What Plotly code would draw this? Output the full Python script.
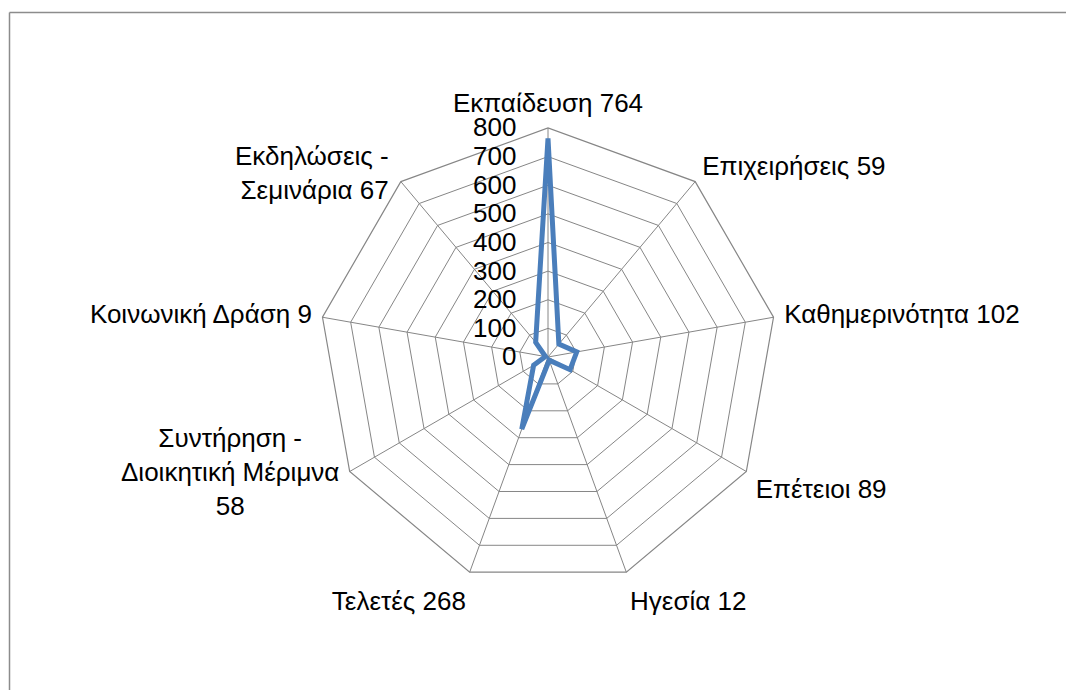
import plotly.graph_objects as go

W, H = 1074, 690
OFF = 8  # page body margin
GRID = "#868686"
LINE = "#4A7EBB"
FONT = "Liberation Sans, Arial, sans-serif"

categories = [
    "Εκπαίδευση 764",
    "Επιχειρήσεις 59",
    "Καθημερινότητα 102",
    "Επέτειοι 89",
    "Ηγεσία 12",
    "Τελετές 268",
    "Συντήρηση - Διοικητική Μέριμνα 58",
    "Κοινωνική Δράση 9",
    "Εκδηλώσεις - Σεμινάρια 67",
]
values = [764, 59, 102, 89, 12, 268, 58, 9, 67]
radial_ticks = [0, 100, 200, 300, 400, 500, 600, 700, 800]

# wrapped labels are drawn as annotations so they sit centred on their spoke
wrapped = {
    "Συντήρηση - Διοικητική Μέριμνα 58": "Συντήρηση -<br>Διοικητική Μέριμνα<br>58",
    "Εκδηλώσεις - Σεμινάρια 67": "Εκδηλώσεις -<br>Σεμινάρια 67",
}
ticktext = ["" if c in wrapped else c for c in categories]

# centre and radius in pixels
cx, cy, rad = 548 - OFF, 357 - OFF, 229

fig = go.Figure(go.Scatterpolar(
    r=values + [values[0]],
    theta=categories + [categories[0]],
    mode="lines",
    line=dict(color=LINE, width=5),
    showlegend=False,
    hoverinfo="skip",
))

fig.update_layout(
    width=W, height=H,
    paper_bgcolor="white",
    margin=dict(t=0, b=0, l=0, r=0),
    font=dict(family=FONT, size=26, color="black"),
    polar=dict(
        domain=dict(x=[(cx - rad) / W, (cx + rad) / W],
                    y=[1 - (cy + rad) / H, 1 - (cy - rad) / H]),
        bgcolor="white",
        gridshape="linear",
        angularaxis=dict(
            direction="clockwise", rotation=90,
            tickmode="array", tickvals=categories, ticktext=ticktext,
            showline=True, linecolor=GRID, linewidth=1.2,
            showgrid=True, gridcolor=GRID, gridwidth=1.2,
            ticks="outside", ticklen=5, tickcolor="rgba(0,0,0,0)",
            tickfont=dict(size=26),
        ),
        radialaxis=dict(
            range=[0, 800], tickvals=radial_ticks, angle=90,
            side="counterclockwise",
            showline=False, showgrid=True, gridcolor=GRID, gridwidth=1.2,
            ticks="outside", ticklen=22, tickcolor="rgba(0,0,0,0)",
            tickfont=dict(size=26), tickangle=90,
        ),
    ),
    annotations=[
        dict(text=wrapped["Εκδηλώσεις - Σεμινάρια 67"], xref="paper", yref="paper",
             x=(391 - OFF) / W, y=1 - (173 - OFF) / H, xanchor="right", yanchor="middle",
             align="right", showarrow=False, font=dict(size=26)),
        dict(text=wrapped["Συντήρηση - Διοικητική Μέριμνα 58"], xref="paper", yref="paper",
             x=(341 - OFF) / W, y=1 - (472 - OFF) / H, xanchor="right", yanchor="middle",
             align="center", showarrow=False, font=dict(size=26)),
    ],
    shapes=[
        dict(type="line", xref="paper", yref="paper",
             x0=(9.5 - OFF) / W, y0=1 - (12.5 - OFF) / H, x1=1.02, y1=1 - (12.5 - OFF) / H,
             line=dict(color="#8C8C8C", width=1.5)),
        dict(type="line", xref="paper", yref="paper",
             x0=(9.5 - OFF) / W, y0=1 - (12.5 - OFF) / H, x1=(9.5 - OFF) / W, y1=-0.02,
             line=dict(color="#8C8C8C", width=1.5)),
    ],
)

fig.write_html("out.html")
